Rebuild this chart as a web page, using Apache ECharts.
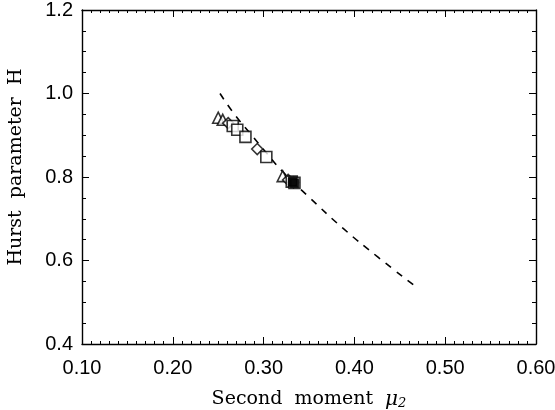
<!DOCTYPE html>
<html><head><meta charset="utf-8">
<script src="https://cdn.jsdelivr.net/npm/echarts@6/dist/echarts.min.js"></script>
<style>html,body{margin:0;padding:0;background:#fff}#c{width:555px;height:410px}</style>
</head><body><div id="c"></div>
<script>
// Data
var xTicks = [0.10, 0.20, 0.30, 0.40, 0.50, 0.60];
var yTicks = [0.4, 0.6, 0.8, 1.0, 1.2];
var modelLine = [[0.252,1.000],[0.268,0.950],[0.285,0.905],[0.303,0.858],[0.320,0.815],[0.351,0.750],[0.387,0.678],[0.426,0.608],[0.466,0.540]];
var triangles = [[0.250,0.942],[0.255,0.937],[0.321,0.802]];
var diamonds  = [[0.261,0.929],[0.293,0.867],[0.327,0.793],[0.333,0.787]];
var squares   = [[0.266,0.922],[0.271,0.913],[0.280,0.896],[0.303,0.848],[0.331,0.789],[0.334,0.786]];
var filled    = [[0.332,0.788],[0.334,0.785]];

var chart = echarts.init(document.getElementById('c'), null, {renderer:'canvas'});
var axisLine = {show:true, lineStyle:{color:'#000', width:1.4}};
var sans = 'Liberation Sans';
var serif = 'DejaVu Serif';
function xAx(pos, show){
  return {type:'value', position:pos, min:0.1, max:0.6, interval:0.1,
    axisLine:axisLine, axisTick:{show:true, inside:true, length:7, lineStyle:{color:'#000'}},
    minorTick:{show:true, splitNumber:10, length:3, lineStyle:{color:'#000'}},
    splitLine:{show:false},
    axisLabel:{show:show, margin:14, color:'#000', fontFamily:sans, fontSize:20,
      formatter:function(v){return v.toFixed(2);}},
    name: show ? 'Second  moment  {m|μ}{s|2}' : '', nameLocation:'middle', nameGap:45,
    nameTextStyle:{color:'#000', fontFamily:serif, fontSize:19,
      rich:{m:{fontFamily:serif, fontStyle:'italic', fontSize:20, color:'#000'},
            s:{fontFamily:serif, fontStyle:'italic', fontSize:13, color:'#000', verticalAlign:'bottom', padding:[8,0,0,0]}}}
  };
}
function yAx(pos, show){
  return {type:'value', position:pos, min:0.4, max:1.2, interval:0.2,
    axisLine:axisLine, axisTick:{show:true, inside:true, length:7, lineStyle:{color:'#000'}},
    minorTick:{show:true, splitNumber:4, length:4, lineStyle:{color:'#000'}},
    splitLine:{show:false},
    axisLabel:{show:show, margin:9, color:'#000', fontFamily:sans, fontSize:20,
      formatter:function(v){return v.toFixed(1);}},
    name: show ? 'Hurst  parameter  H' : '', nameLocation:'middle', nameGap:56,
    nameTextStyle:{color:'#000', fontFamily:serif, fontSize:19, padding:[0,0,0,20]}
  };
}
function scat(data, symbol, size, fill){
  return {type:'scatter', data:data, symbol:symbol, symbolSize:size, xAxisIndex:0, yAxisIndex:0,
    itemStyle:{color: fill ? '#000' : '#fff', borderColor:'#000', borderWidth:1.6}, z:3};
}
chart.setOption({
  animation:false,
  backgroundColor:'#fff',
  grid:{left:82, right:19, top:10, bottom:66, containLabel:false, outerBoundsMode:'none'},
  xAxis:[xAx('bottom', true), xAx('top', false)],
  yAxis:[yAx('left', true), yAx('right', false)],
  series:[
    {type:'line', data:modelLine, showSymbol:false, smooth:true, xAxisIndex:0, yAxisIndex:0,
      lineStyle:{color:'#000', width:1.6, type:[7,7]}, z:2},
    scat(triangles, 'triangle', 11, false),
    scat(diamonds, 'diamond', 11, false),
    scat(squares, 'rect', 11, false),
    scat(filled, 'rect', 8, true)
  ]
});
</script></body></html>
